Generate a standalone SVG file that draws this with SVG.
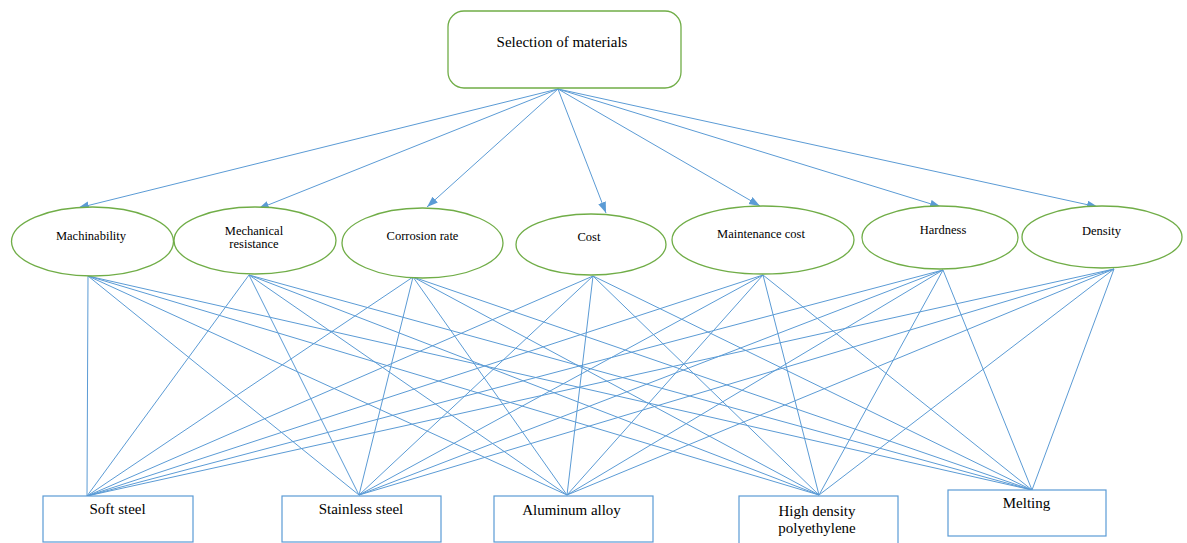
<svg xmlns="http://www.w3.org/2000/svg" width="1187" height="543" viewBox="0 0 1187 543">
<style>
.n{fill:#fff;stroke:#70AD47;stroke-width:1.3}
.b{fill:#fff;stroke:#5B9BD5;stroke-width:1.2}
.c{stroke:#5B9BD5;stroke-width:1;fill:none}
.t{font-family:"Liberation Serif","Times New Roman",serif;fill:#000;text-anchor:middle}
.s{font-size:12.5px}
.l{font-size:15px}
</style>
<defs>
<marker id="ah" markerUnits="userSpaceOnUse" markerWidth="12" markerHeight="10" refX="11" refY="4" orient="auto">
<path d="M0,0 L11,4 L0,8 Z" fill="#5B9BD5"/>
</marker>
</defs>
<g id="connectors">
<g marker-end="url(#ah)">
<line class="c" x1="558" y1="89" x2="78" y2="208"/>
<line class="c" x1="558" y1="89" x2="258" y2="209"/>
<line class="c" x1="558" y1="89" x2="427" y2="207"/>
<line class="c" x1="558" y1="89" x2="606" y2="213"/>
<line class="c" x1="558" y1="89" x2="760" y2="206"/>
<line class="c" x1="558" y1="89" x2="941" y2="207"/>
<line class="c" x1="558" y1="89" x2="1098" y2="207"/>
</g>
<path class="c" d="M88,276 L87,496 M88,276 L359,495 M88,276 L567,495 M88,276 L819,495 M88,276 L1032,490
M249,275 L87,496 M249,275 L359,495 M249,275 L567,495 M249,275 L819,495 M249,275 L1032,490
M413,277 L87,496 M413,277 L359,495 M413,277 L567,495 M413,277 L819,495 M413,277 L1032,490
M593,276 L87,496 M593,276 L359,495 M593,276 L567,495 M593,276 L819,495 M593,276 L1032,490
M763,275 L87,496 M763,275 L359,495 M763,275 L567,495 M763,275 L819,495 M763,275 L1032,490
M943,270 L87,496 M943,270 L359,495 M943,270 L567,495 M943,270 L819,495 M943,270 L1032,490
M1114,269 L87,496 M1114,269 L359,495 M1114,269 L567,495 M1114,269 L819,495 M1114,269 L1032,490"/>
</g>
<g id="selection">
<rect class="n" x="448" y="11" width="233" height="77" rx="16" ry="16"/>
<text class="t l" x="562" y="47">Selection of materials</text>
</g>
<g id="machinability">
<ellipse class="n" cx="92.5" cy="241.5" rx="81" ry="34.5"/>
<text class="t s" x="91" y="240">Machinability</text>
</g>
<g id="mechanical">
<ellipse class="n" cx="255" cy="240.5" rx="81" ry="33.5"/>
<text class="t s" x="254" y="235">Mechanical</text>
<text class="t s" x="254" y="248">resistance</text>
</g>
<g id="corrosion">
<ellipse class="n" cx="422.5" cy="243" rx="80.5" ry="35"/>
<text class="t s" x="422.5" y="240">Corrosion rate</text>
</g>
<g id="cost">
<ellipse class="n" cx="591" cy="244.5" rx="75" ry="30.5"/>
<text class="t s" x="589" y="241">Cost</text>
</g>
<g id="maintenance">
<ellipse class="n" cx="763" cy="240" rx="91" ry="34"/>
<text class="t s" x="761" y="238">Maintenance cost</text>
</g>
<g id="hardness">
<ellipse class="n" cx="940" cy="237.5" rx="78" ry="31.5"/>
<text class="t s" x="943" y="234">Hardness</text>
</g>
<g id="density">
<ellipse class="n" cx="1102" cy="237" rx="80" ry="31"/>
<text class="t s" x="1101.5" y="235">Density</text>
</g>
<g id="softsteel">
<rect class="b" x="43" y="496" width="150" height="46"/>
<text class="t l" x="117.5" y="514">Soft steel</text>
</g>
<g id="stainless">
<rect class="b" x="282" y="496" width="159" height="46"/>
<text class="t l" x="361" y="514">Stainless steel</text>
</g>
<g id="aluminum">
<rect class="b" x="494" y="496" width="159" height="46"/>
<text class="t l" x="571.5" y="515">Aluminum alloy</text>
</g>
<g id="hdpe">
<rect class="b" x="739" y="496" width="159" height="48"/>
<text class="t l" x="817" y="516">High density</text>
<text class="t l" x="817" y="533">polyethylene</text>
</g>
<g id="melting">
<rect class="b" x="948" y="490" width="158" height="46"/>
<text class="t l" x="1026.5" y="508">Melting</text>
</g>
</svg>
